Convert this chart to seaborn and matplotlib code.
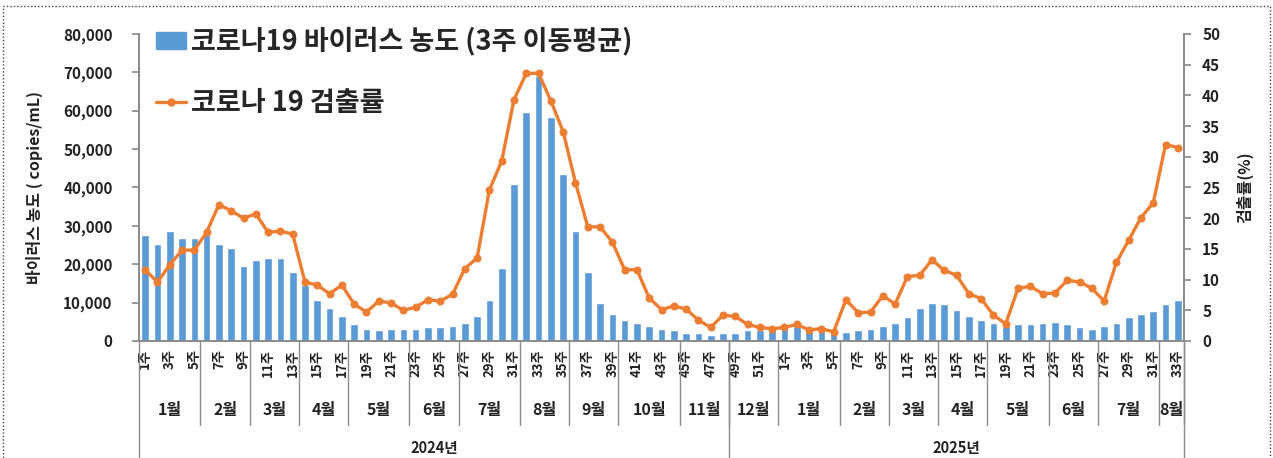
import matplotlib.pyplot as plt
import numpy as np
import pandas as pd
import seaborn as sns
from matplotlib.lines import Line2D
from matplotlib.patches import Patch, Rectangle

# 기본 테마 (테마 설정 후 한글 폰트 지정)
sns.set_theme(style="white")
plt.rcParams["font.family"] = ["Noto Sans CJK KR", "DejaVu Sans"]

# --- 데이터 ---
week_2024 = list(range(1, 53))
week_2025 = list(range(1, 34))

# 코로나19 바이러스 농도 (3주 이동평균, copies/mL)
virus_conc = [
    27600, 25300, 28700, 26800, 26800, 28000, 25300, 24100, 19500, 21100,
    21500, 21500, 18000, 14500, 10800, 8500, 6600, 4300, 3100, 2800,
    3100, 3100, 3100, 3600, 3600, 3900, 4700, 6600, 10800, 19100,
    40900, 59600, 69000, 58400, 43600, 28700, 18000, 10000, 7000, 5400,
    4700, 3900, 3100, 2800, 2100, 2100, 1650, 2100, 2100, 2800,
    2800, 3100, 3600, 3900, 3100, 3100, 2100, 2400, 2800, 3100,
    3900, 4700, 6300, 8500, 10000, 9600, 8200, 6600, 5400, 4700,
    3900, 4300, 4300, 4700, 5000, 4300, 3650, 3200, 3900, 4700,
    6300, 7000, 7700, 9700, 10800,
]

# 코로나19 검출률 (%)
detect_rate = [
    11.6, 9.6, 12.4, 14.8, 14.8, 17.7, 22.2, 21.2, 20.0, 20.7,
    17.7, 17.9, 17.4, 9.6, 9.1, 7.7, 9.1, 6.0, 4.7, 6.5,
    6.2, 5.0, 5.5, 6.7, 6.5, 7.6, 11.8, 13.5, 24.6, 29.3,
    39.3, 43.6, 43.6, 39.1, 34.1, 25.8, 18.6, 18.6, 16.1, 11.6,
    11.6, 7.0, 5.1, 5.7, 5.2, 3.4, 2.2, 4.2, 4.0, 2.7,
    2.2, 2.0, 2.2, 2.7, 1.8, 2.0, 1.5, 6.7, 4.6, 4.7,
    7.4, 6.0, 10.5, 10.7, 13.2, 11.5, 10.7, 7.7, 6.9, 4.2,
    2.8, 8.6, 8.9, 7.7, 7.8, 9.9, 9.6, 8.6, 6.5, 12.8,
    16.4, 20.1, 22.5, 32.0, 31.5,
]

months = ["1월", "2월", "3월", "4월", "5월", "6월", "7월", "8월", "9월", "10월", "11월",
          "12월", "1월", "2월", "3월", "4월", "5월", "6월", "7월", "8월"]
month_len = [5, 4, 4, 4, 5, 4, 5, 4, 4, 5, 4,
             4, 5, 4, 4, 4, 5, 4, 5, 2]
years = ["2024년", "2025년"]
year_len = [48, 37]

BLUE = "#5B9BD5"
ORANGE = "#ED7D31"
GRAY = "#8c8c8c"
TXT = "#222222"

weeks = week_2024 + week_2025
df = pd.DataFrame({
    "pos": np.arange(len(weeks)),
    "week": [f"{w}주" for w in weeks],
    "conc": virus_conc,
    "rate": detect_rate,
})

fig = plt.figure(figsize=(12.73, 4.58), dpi=100)
ax = fig.add_axes([0.1092, 0.2555, 0.8209, 0.6703])

sns.barplot(data=df, x="pos", y="conc", color=BLUE, saturation=1, width=0.62, ax=ax)

ax2 = ax.twinx()
sns.lineplot(data=df, x="pos", y="rate", ax=ax2, color=ORANGE, linewidth=2.4,
             marker="o", markersize=5, markeredgecolor=ORANGE)

n = len(df)
ax.set_xlim(-0.5, n - 0.5)
ax.set_ylim(0, 80000)
ax2.set_ylim(0, 50)
ax.set_yticks(np.arange(0, 80001, 10000))
ax.set_yticklabels([f"{v:,}" for v in range(0, 80001, 10000)])
ax2.set_yticks(np.arange(0, 51, 5))

# 주 라벨 (홀수 주)
lab = df[df["week"].str.replace("주", "").astype(int) % 2 == 1]
ax.set_xticks(lab["pos"])
ax.set_xticklabels(lab["week"], rotation=90, fontsize=9.5, fontweight="bold", color=TXT)
ax.set_xticks(np.arange(-0.5, n, 1), minor=True)
ax.tick_params(axis="x", which="major", length=0, pad=6)
ax.tick_params(axis="x", which="minor", length=30, color=GRAY, width=1)

for a in (ax, ax2):
    for s in a.spines.values():
        s.set_color(GRAY)
    a.spines["top"].set_visible(False)
    a.set_xlabel("")

ax.tick_params(axis="y", which="major", left=True, length=5, color=GRAY, labelsize=11,
               labelcolor=TXT, pad=14)
ax2.tick_params(axis="y", which="major", right=True, length=5, color=GRAY, labelsize=11,
                labelcolor=TXT, pad=8)
for t in ax.get_yticklabels() + ax2.get_yticklabels():
    t.set_fontweight("bold")

ax.set_ylabel("바이러스 농도 ( copies/mL)", fontsize=11.5, fontweight="bold", color=TXT)
ax.yaxis.set_label_coords(-0.092, 0.5)
ax2.set_ylabel("검출률(%)", fontsize=11.5, fontweight="bold", color=TXT, rotation=90,
               va="center")
ax2.yaxis.set_label_coords(1.058, 0.5)

# 월 / 연도 구분선과 라벨
trans = ax.get_xaxis_transform()
start = -0.5
for name, ln in zip(months, month_len):
    end = start + ln
    ax.plot([end, end], [0, -0.274], transform=trans, color=GRAY, lw=1, clip_on=False)
    ax.text((start + end) / 2, -0.225, name, transform=trans, ha="center", va="center",
            fontsize=11.5, fontweight="bold", color=TXT)
    start = end

start = -0.5
ax.plot([start, start], [0, -0.4], transform=trans, color=GRAY, lw=1, clip_on=False)
for name, ln in zip(years, year_len):
    end = start + ln
    ax.plot([end, end], [0, -0.4], transform=trans, color=GRAY, lw=1, clip_on=False)
    ax.text((start + end) / 2, -0.35, name, transform=trans, ha="center", va="center",
            fontsize=10.5, fontweight="bold", color=TXT)
    start = end

# 범례
handles = [
    Patch(facecolor=BLUE, edgecolor=BLUE),
    Line2D([0], [0], color=ORANGE, lw=2.4, marker="o", markersize=5),
]
labels = ["코로나19 바이러스 농도 (3주 이동평균)", "코로나 19 검출률"]
ax2.legend(handles, labels, loc="upper left", bbox_to_anchor=(0.006, 1.058), frameon=False,
           prop={"size": 19.5, "weight": "bold"}, handlelength=1.1, handleheight=0.6,
           labelspacing=1.22, handletextpad=0.2, borderaxespad=0)

# 점선 테두리
fig.patches.append(Rectangle((0.0024, -0.02), 0.995, 1.007, transform=fig.transFigure,
                             fill=False, linestyle=(0, (1, 1.5)), edgecolor="#444444", lw=1))

fig.savefig("out.png", dpi=100)
